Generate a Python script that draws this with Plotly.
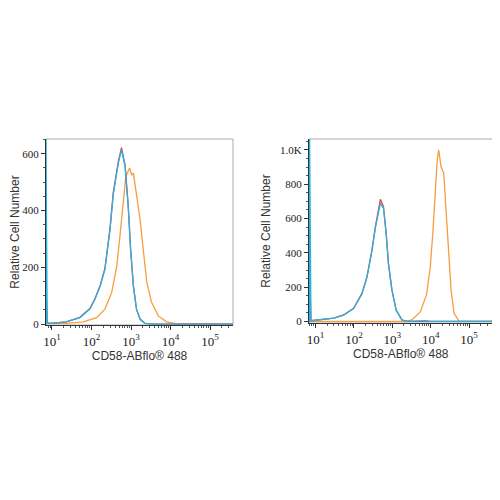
import plotly.graph_objects as go

# left panel (fluorescence intensity -> relative cell number)
left_red_x = [7, 7, 7.6, 9, 23, 51, 91, 123, 166, 219, 295, 355, 478, 575, 708, 850, 977, 1150, 1380, 1700, 2240, 4000, 380000]
left_red_y = [0, 150, 4, 3, 8, 24, 55, 90, 136, 196, 338, 462, 572, 622, 560, 418, 265, 134, 52, 17, 3, 0, 0]
left_blue_x = [7, 7, 7.6, 9, 23, 51, 91, 123, 166, 219, 295, 355, 478, 575, 708, 850, 977, 1150, 1380, 1700, 2240, 4000, 380000]
left_blue_y = [0, 700, 4, 3, 8, 23, 53, 88, 134, 193, 333, 456, 567, 614, 556, 415, 263, 134, 53, 18, 3, 0, 0]
left_orange_x = [7, 7, 7.6, 9, 23, 62, 135, 219, 324, 437, 525, 617, 741, 920, 1050, 1150, 1350, 1700, 2040, 2510, 3310, 4900, 7940, 14100, 380000]
left_orange_y = [0, 160, 4, 3, 3, 8, 23, 53, 111, 205, 310, 415, 520, 550, 526, 532, 463, 368, 263, 147, 77, 29, 8, 2, 0]

# right panel
right_red_x = [7, 7, 7.6, 13, 30, 54, 98, 162, 219, 295, 363, 490, 589, 692, 794, 977, 1260, 1780, 2400, 10000, 400000]
right_red_y = [0, 300, 4, 10, 19, 38, 77, 164, 261, 417, 553, 712, 669, 514, 339, 184, 67, 9, 0, 0, 0]
right_blue_x = [7, 7, 7.6, 13, 30, 54, 98, 162, 219, 295, 363, 490, 589, 692, 794, 977, 1260, 1780, 2400, 7200, 10000, 400000]
right_blue_y = [0, 1100, 4, 10, 19, 37, 75, 160, 257, 412, 548, 689, 660, 510, 336, 182, 66, 9, 0, 5, 0, 0]
right_orange_x = [7, 2190, 3240, 5370, 7760, 9770, 11500, 13200, 14800, 16200, 18600, 21900, 25100, 28800, 33900, 40700, 55000, 400000]
right_orange_y = [0, 0, 9, 57, 155, 319, 533, 767, 942, 1000, 902, 864, 669, 417, 184, 48, 0, 0]

x_tickvals = [10, 100, 1000, 10000, 100000]
x_ticktext = ["10<sup>1</sup>", "10<sup>2</sup>", "10<sup>3</sup>", "10<sup>4</sup>", "10<sup>5</sup>"]

RED = "#ee3b3b"
BLUE = "#23b4e4"
ORANGE = "#f89c3c"

fig = go.Figure()

def add_panel(xs, ys, colors, xa, ya):
    for x, y, c in zip(xs, ys, colors):
        fig.add_trace(go.Scatter(x=x, y=y, mode="lines", line=dict(color=c, width=1.3),
                                 xaxis=xa, yaxis=ya, showlegend=False, hoverinfo="skip"))

add_panel([left_orange_x, left_red_x, left_blue_x], [left_orange_y, left_red_y, left_blue_y],
          [ORANGE, RED, BLUE], "x", "y")
add_panel([right_orange_x, right_red_x, right_blue_x], [right_orange_y, right_red_y, right_blue_y],
          [ORANGE, RED, BLUE], "x2", "y2")

xtickfont = dict(family="Liberation Serif", size=13, color="#222")
ytickfont = dict(family="Liberation Serif", size=11, color="#222")
titlefont = dict(family="Liberation Sans", size=12, color="#333")

xcommon = dict(type="log", tickvals=x_tickvals, ticktext=x_ticktext, showgrid=False, zeroline=False,
               showline=True, linecolor="#333", linewidth=1, ticks="outside", ticklen=4,
               tickcolor="#333", tickfont=xtickfont, automargin=False,
               minor=dict(ticks="outside", ticklen=2, dtick="D1", tickcolor="#555"),
               title=dict(text="CD58-ABflo® 488", font=titlefont, standoff=2))
ycommon = dict(showgrid=False, zeroline=False, showline=True, linecolor="#333", linewidth=1,
               ticks="outside", ticklen=4, tickcolor="#333", tickfont=ytickfont, automargin=False,
               minor=dict(ticks="outside", ticklen=2, dtick=50, tickcolor="#555"),
               title=dict(text="Relative Cell Number", font=titlefont, standoff=6))

# the page body adds an 8px offset, domains are set with that in mind
left_x = [0.076, 0.45]
left_y = [0.366, 0.738]
right_x = [0.602, 0.969]
right_y = [0.37, 0.738]

fig.update_layout(
    width=500, height=500, margin=dict(l=0, r=0, t=0, b=0),
    paper_bgcolor="white", plot_bgcolor="white",
    xaxis=dict(xcommon, domain=left_x, range=[0.85, 5.58], anchor="y"),
    yaxis=dict(ycommon, domain=left_y, range=[-3, 652], dtick=200, anchor="x"),
    xaxis2=dict(xcommon, domain=right_x, range=[0.83, 5.61], anchor="y2"),
    yaxis2=dict(ycommon, domain=right_y, range=[-9, 1064], anchor="x2",
                tickvals=[0, 200, 400, 600, 800, 1000],
                ticktext=["0", "200", "400", "600", "800", "1.0K"]),
)

# light grey frame around each plot area
for xd, yd in [(left_x, left_y), (right_x, right_y)]:
    fig.add_shape(type="rect", xref="paper", yref="paper", x0=xd[0], x1=xd[1], y0=yd[0], y1=yd[1],
                  line=dict(color="#aaa", width=1), layer="below")

fig.write_html("out.html")
